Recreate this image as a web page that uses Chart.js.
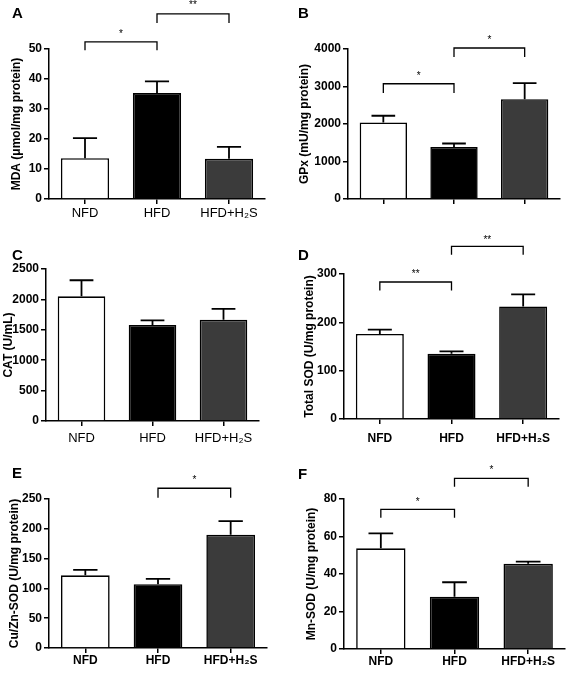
<!DOCTYPE html>
<html>
<head>
<meta charset="utf-8">
<script src="https://cdn.jsdelivr.net/npm/chart.js@4.4.1/dist/chart.umd.min.js"></script>
<style>
  body { margin: 0; background: #fff; width: 567px; height: 674px; position: relative; overflow: hidden; }
  .panel { position: absolute; }
  .letter { position: absolute; font: bold 15px 'Liberation Sans', Arial, sans-serif; color: #000; line-height: 1; }
</style>
</head>
<body>
<div id="root"></div>
<script>
// ---------- data ----------
const groups = ['NFD', 'HFD', 'HFD+H₂S'];
const barFill = ['#ffffff', '#000000', '#3b3b3b'];

// A: MDA
const mdaMean = [13.6, 35.3, 13.4];
const mdaSem  = [6.7, 3.9, 4.0];
const mdaTicks = [0, 10, 20, 30, 40, 50];
const mdaSig = [[0, 1, 52.4, 49.6, '*', 55.7], [1, 2, 61.7, 58.7, '**', 65.1]];

// B: GPx
const gpxMean = [2040, 1390, 2660];
const gpxSem  = [180, 90, 430];
const gpxTicks = [0, 1000, 2000, 3000, 4000];
const gpxSig = [[0, 1, 3073, 2824, '*', 3314], [1, 2, 4027, 3786, '*', 4294]];

// C: CAT
const catMean = [2050, 1580, 1665];
const catSem  = [265, 75, 180];
const catTicks = [0, 500, 1000, 1500, 2000, 2500];
const catSig = [];

// D: total SOD
const sodMean = [176, 135, 233];
const sodSem  = [9, 5, 25];
const sodTicks = [0, 100, 200, 300];
const sodSig = [[0, 1, 283.5, 266, '**', 304], [1, 2, 357, 340, '**', 375]];

// E: Cu/Zn-SOD
const cuznMean = [122, 107, 190];
const cuznSem  = [9, 9, 23];
const cuznTicks = [0, 50, 100, 150, 200, 250];
const cuznSig = [[1, 2, 268, 252, '*', 285]];

// F: Mn-SOD
const mnMean = [53.7, 27.9, 45.5];
const mnSem  = [8, 7.7, 1.1];
const mnTicks = [0, 20, 40, 60, 80];
const mnSig = [[0, 1, 74.5, 70, '*', 79.5], [1, 2, 91, 86.6, '*', 96.4]];

// ---------- layout of the six panels ----------
const X_H = 26;
const panels = [
  { id: 'A', box: [0, 0, 283, 225],   area: [49, 49, 265, 199],  letter: [12, 5], labelPad: 2,
    title: 'MDA (μmol/mg protein)', titlePad: 9, mean: mdaMean, sem: mdaSem, ticks: mdaTicks, sig: mdaSig, labels: true, boldX: false },
  { id: 'B', box: [285, 0, 282, 225], area: [348, 49, 560, 199], letter: [298, 5], labelPad: 2,
    title: 'GPx (mU/mg protein)', titlePad: 12, mean: gpxMean, sem: gpxSem, ticks: gpxTicks, sig: gpxSig, labels: false, boldX: true },
  { id: 'C', box: [0, 225, 283, 220], area: [46, 269, 259, 421], letter: [12, 247], labelPad: 5,
    title: 'CAT (U/mL)', titlePad: 1, mean: catMean, sem: catSem, ticks: catTicks, sig: catSig, labels: true, boldX: false },
  { id: 'D', box: [285, 225, 282, 220], area: [344, 274, 559, 419], letter: [298, 247], labelPad: 7,
    title: 'Total SOD (U/mg protein)', titlePad: 17, mean: sodMean, sem: sodSem, ticks: sodTicks, sig: sodSig, labels: true, boldX: true },
  { id: 'E', box: [0, 445, 283, 229], area: [49, 499, 267, 648], letter: [12, 465], labelPad: 0,
    title: 'Cu/Zn-SOD (U/mg protein)', titlePad: 7, mean: cuznMean, sem: cuznSem, ticks: cuznTicks, sig: cuznSig, labels: true, boldX: true },
  { id: 'F', box: [285, 445, 282, 229], area: [344, 499, 565, 649], letter: [298, 466], labelPad: 0,
    title: 'Mn-SOD (U/mg protein)', titlePad: 19, mean: mnMean, sem: mnSem, ticks: mnTicks, sig: mnSig, labels: true, boldX: true },
];

// error whiskers (upper only) + significance brackets
const annotations = {
  id: 'annotations',
  afterDatasetsDraw(chart) {
    const p = chart.$panel;
    const { ctx, scales: { y } } = chart;
    const bars = chart.getDatasetMeta(0).data;
    ctx.save();
    ctx.strokeStyle = '#000';
    ctx.lineWidth = 1.8;
    p.mean.forEach((m, i) => {
      const b = bars[i];
      const half = b.width / 4;
      const y0 = y.getPixelForValue(m);
      const y1 = y.getPixelForValue(m + p.sem[i]);
      ctx.beginPath();
      ctx.moveTo(b.x, y0); ctx.lineTo(b.x, y1);
      ctx.moveTo(b.x - half, y1); ctx.lineTo(b.x + half, y1);
      ctx.stroke();
    });
    ctx.lineWidth = 1.3;
    ctx.fillStyle = '#000';
    ctx.font = '10px "Liberation Sans", Arial, sans-serif';
    ctx.textAlign = 'center';
    ctx.textBaseline = 'middle';
    p.sig.forEach(([a, c, lvl, end, label, starLvl]) => {
      const xa = bars[a].x, xc = bars[c].x;
      const yl = y.getPixelForValue(lvl), ye = y.getPixelForValue(end);
      ctx.beginPath();
      ctx.moveTo(xa, ye); ctx.lineTo(xa, yl); ctx.lineTo(xc, yl); ctx.lineTo(xc, ye);
      ctx.stroke();
      ctx.fillText(label, (xa + xc) / 2, y.getPixelForValue(starLvl) + 2);
    });
    ctx.restore();
  }
};

const root = document.getElementById('root');

panels.forEach(p => {
  const [bx, by, bw, bh] = p.box;
  const [l, t, r, b] = p.area;

  const letter = document.createElement('div');
  letter.className = 'letter';
  letter.textContent = p.id;
  letter.style.left = p.letter[0] + 'px';
  letter.style.top = p.letter[1] + 'px';

  const wrap = document.createElement('div');
  wrap.className = 'panel';
  wrap.style.left = bx + 'px';
  wrap.style.top = by + 'px';
  const canvas = document.createElement('canvas');
  canvas.width = bw;
  canvas.height = bh;
  wrap.appendChild(canvas);
  root.appendChild(wrap);
  root.appendChild(letter);

  const tickFont = { family: '"Liberation Sans", Arial, sans-serif', size: 12, weight: 'bold' };
  const xFont = p.boldX
    ? { family: '"Liberation Sans", Arial, sans-serif', size: 12, weight: 'bold' }
    : { family: '"Liberation Sans", Arial, sans-serif', size: 13, weight: 'normal' };

  new Chart(canvas, {
    type: 'bar',
    data: {
      labels: groups,
      datasets: [{
        data: p.mean,
        backgroundColor: barFill,
        borderColor: '#000',
        borderWidth: 1.6,
        borderSkipped: 'start',
        barPercentage: 0.67,
        categoryPercentage: 1,
      }],
    },
    options: {
      responsive: false,
      animation: false,
      layout: {
        padding: { left: 0, top: t - by, right: bx + bw - r, bottom: by + bh - b - X_H },
      },
      plugins: { legend: { display: false }, tooltip: { enabled: false } },
      scales: {
        x: {
          grid: { drawOnChartArea: false, offset: false, color: '#000', lineWidth: 1.5, tickLength: 5 },
          border: { color: '#000', width: 1.5 },
          ticks: {
            color: '#000', font: xFont, padding: p.labelPad, maxRotation: 0, autoSkip: false,
            callback: (v, i) => p.labels ? groups[i] : '',
          },
          afterFit: s => { s.height = X_H; },
        },
        y: {
          min: p.ticks[0],
          max: p.ticks[p.ticks.length - 1],
          afterBuildTicks: s => { s.ticks = p.ticks.map(v => ({ value: v })); },
          grid: { drawOnChartArea: false, color: '#000', lineWidth: 1.5, tickLength: 5 },
          border: { color: '#000', width: 1.5 },
          ticks: { color: '#000', font: tickFont, padding: 2, callback: v => String(v) },
          title: {
            display: true, text: p.title, color: '#000',
            font: { family: '"Liberation Sans", Arial, sans-serif', size: 12, weight: 'bold' },
            padding: { top: p.titlePad, bottom: 0 },
          },
          afterFit: s => { s.width = l - bx; },
        },
      },
    },
    plugins: [{ id: 'panelRef', beforeInit(c) { c.$panel = p; } }, annotations],
  });
});
</script>
</body>
</html>
